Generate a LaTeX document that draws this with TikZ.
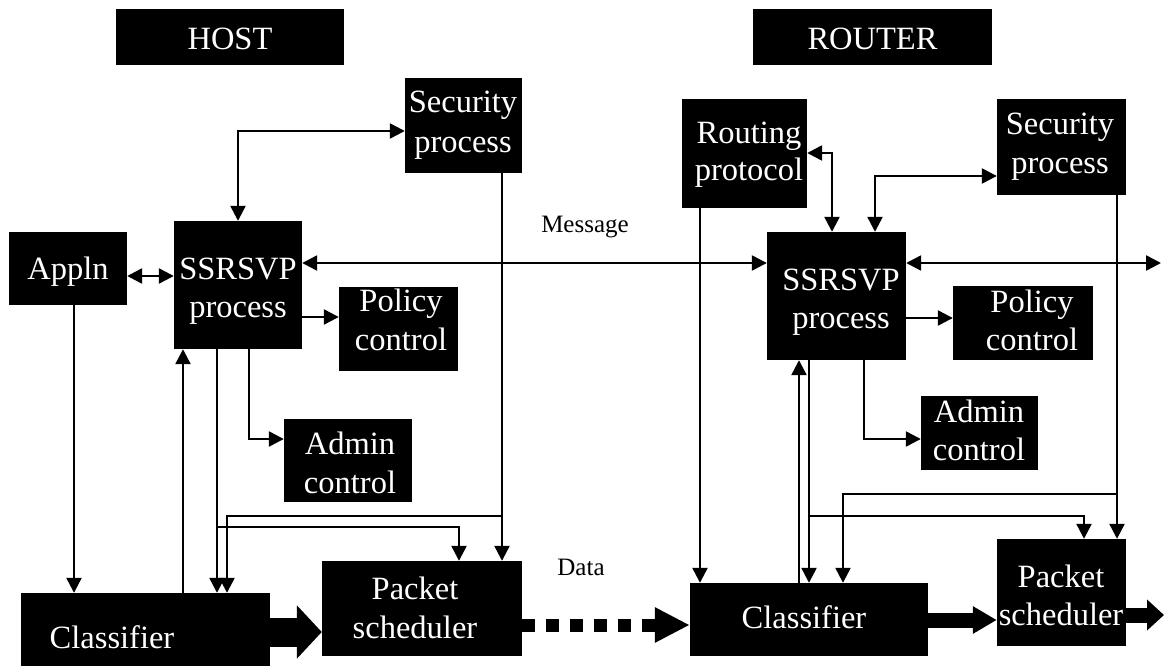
\documentclass[tikz,border=0pt]{standalone}
\usepackage{fontspec}
\setmainfont{Liberation Serif}
\usetikzlibrary{arrows.meta}
\begin{document}
\begin{tikzpicture}[x=1pt,y=-1pt,
  box/.style={fill=black, draw=none, inner sep=0pt},
  txt/.style={text=white, inner sep=0pt, anchor=base, font=\fontsize{32.5}{39}\selectfont},
  note/.style={text=black, inner sep=0pt, anchor=base, font=\fontsize{25}{30}\selectfont},
  tip/.tip={Triangle[length=15pt,width=15pt]},
  arr/.style={draw, line width=2.4pt, -tip},
  dbl/.style={draw, line width=2.4pt, tip-tip}]
\useasboundingbox (0,0) rectangle (1164,666);

% ---------- boxes ----------
\node[box, minimum width=228pt, minimum height=56pt]  (hostlbl)   at (230,37) {};
\node[box, minimum width=239pt, minimum height=56pt]  (routerlbl) at (872.5,37) {};
\node[box, minimum width=117pt, minimum height=95pt]  (hsec)  at (463.5,125.5) {};
\node[box, minimum width=118pt, minimum height=73pt]  (happ)  at (68,268.5) {};
\node[box, minimum width=128pt, minimum height=128pt] (hrsvp) at (238,285) {};
\node[box, minimum width=119pt, minimum height=84pt]  (hpol)  at (398.5,329) {};
\node[box, minimum width=128pt, minimum height=83pt]  (hadm)  at (348,460.5) {};
\node[box, minimum width=249pt, minimum height=97pt]  (hcls)  at (145.5,641.5) {};
\node[box, minimum width=200pt, minimum height=95pt]  (hpkt)  at (422,608.5) {};
\node[box, minimum width=125pt, minimum height=109pt] (rrout) at (744.5,153.5) {};
\node[box, minimum width=129pt, minimum height=96pt]  (rsec)  at (1061.5,147) {};
\node[box, minimum width=139pt, minimum height=128pt] (rrsvp) at (836.5,296) {};
\node[box, minimum width=140pt, minimum height=74pt]  (rpol)  at (1023,323) {};
\node[box, minimum width=117pt, minimum height=74pt]  (radm)  at (979.5,433) {};
\node[box, minimum width=238pt, minimum height=73pt]  (rcls)  at (809,619.5) {};
\node[box, minimum width=129pt, minimum height=107pt] (rpkt)  at (1061.5,592.5) {};

% ---------- box texts ----------
\node[txt] (hostlbl-t)   at (230,50)   {HOST};
\node[txt] (routerlbl-t) at (872.5,50) {ROUTER};
\node[txt] (hsec-a)  at (463,113)  {Security};
\node[txt] (hsec-b)  at (463,152)  {process};
\node[txt] (happ-t)  at (68,279)   {Appln};
\node[txt] (hrsvp-a) at (238,279)  {SSRSVP};
\node[txt] (hrsvp-b) at (238,317)  {process};
\node[txt] (hpol-a)  at (401,311)  {Policy};
\node[txt] (hpol-b)  at (401,350)  {control};
\node[txt] (hadm-a)  at (350,454)  {Admin};
\node[txt] (hadm-b)  at (350,493)  {control};
\node[txt] (hcls-t)  at (112,648)  {Classifier};
\node[txt] (hpkt-a)  at (415,599)  {Packet};
\node[txt] (hpkt-b)  at (415,638)  {scheduler};
\node[txt] (rrout-a) at (749,143)  {Routing};
\node[txt] (rrout-b) at (749,180)  {protocol};
\node[txt] (rsec-a)  at (1060,135) {Security};
\node[txt] (rsec-b)  at (1060,173) {process};
\node[txt] (rrsvp-a) at (841,290)  {SSRSVP};
\node[txt] (rrsvp-b) at (841,328)  {process};
\node[txt] (rpol-a)  at (1032,312) {Policy};
\node[txt] (rpol-b)  at (1032,350) {control};
\node[txt] (radm-a)  at (979,422)  {Admin};
\node[txt] (radm-b)  at (979,460)  {control};
\node[txt] (rcls-t)  at (804,628)  {Classifier};
\node[txt] (rpkt-a)  at (1061,587) {Packet};
\node[txt] (rpkt-b)  at (1061,625) {scheduler};

% ---------- free labels ----------
\node[note] (msg)  at (585,232) {Message};
\node[note] (data) at (581,575) {Data};

% ---------- junctions and loose ends ----------
\coordinate (hj1) at (502,516);
\coordinate (hj2) at (217,527);
\coordinate (rj1) at (1117,494);
\coordinate (rj2) at (809,516);
\coordinate (edge) at (1161,263);
\coordinate (edge2) at (1164,615);

% ---------- host connectors ----------
\path[dbl] (happ.east |- 0,276) -- (hrsvp.west |- 0,276);
\path[dbl] (hrsvp.north -| 238,0) |- (hsec.west |- 0,131);
\path[dbl] (hrsvp.east |- 0,263) -- (rrsvp.west |- 0,263);
\path[arr] (hrsvp.east |- 0,317) -- (hpol.west |- 0,317);
\path[arr] (hsec.south -| 502,0) -- (hpkt.north -| 502,0);
\path[arr] (hj1) -| (hcls.north -| 227,0);
\path[arr] (hrsvp.south -| 217,0) -- (hcls.north -| 217,0);
\path[arr] (hj2) -| (hpkt.north -| 459,0);
\path[arr] (hrsvp.south -| 249,0) |- (hadm.west |- 0,439);
\path[arr] (hcls.north -| 183,0) -- (hrsvp.south -| 183,0);
\path[arr] (happ.south -| 74,0) -- (hcls.north -| 74,0);

% ---------- router connectors ----------
\path[dbl] (rrout.east |- 0,153) -| (rrsvp.north -| 832,0);
\path[dbl] (rrsvp.north -| 875,0) |- (rsec.west |- 0,176);
\path[dbl] (rrsvp.east |- 0,263) -- (edge);
\path[arr] (rrsvp.east |- 0,318) -- (rpol.west |- 0,318);
\path[arr] (rrsvp.south -| 864,0) |- (radm.west |- 0,439);
\path[arr] (rcls.north -| 799,0) -- (rrsvp.south -| 799,0);
\path[arr] (rrsvp.south -| 809,0) -- (rcls.north -| 809,0);
\path[arr] (rj2) -| (rpkt.north -| 1084,0);
\path[arr] (rrout.south -| 700,0) -- (rcls.north -| 700,0);
\path[arr] (rsec.south -| 1117,0) -- (rpkt.north -| 1117,0);
\path[arr] (rj1) -| (rcls.north -| 843,0);

% ---------- data path ----------
\draw[line width=29pt, -{Triangle[length=25pt,width=52pt]}]
  (hcls.east |- 0,632) -- (hpkt.west |- 0,632);
\draw[line width=13pt, dash pattern=on 13pt off 11pt, -{Triangle[length=35pt,width=33pt]}]
  (hpkt.east |- 0,625) -- (rcls.west |- 0,625);
\draw[line width=15pt, -{Triangle[length=24pt,width=26pt]}]
  (rcls.east |- 0,620) -- (rpkt.west |- 0,620);
\draw[line width=15pt, -{Triangle[length=17pt,width=30pt]}]
  (rpkt.east |- 0,615) -- (edge2);
\end{tikzpicture}
\end{document}
